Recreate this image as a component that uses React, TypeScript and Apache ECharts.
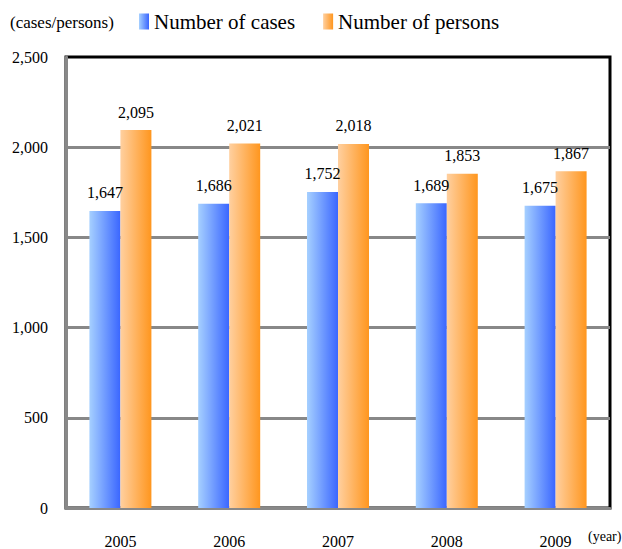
import React, { useEffect, useRef } from "react";
import * as echarts from "echarts";

const years = ["2005", "2006", "2007", "2008", "2009"];
const cases = [1647, 1686, 1752, 1689, 1675];
const persons = [2095, 2021, 2018, 1853, 1867];
const seriesNames = ["Number of cases", "Number of persons"];

const FONT = "'Times New Roman', 'Liberation Serif', serif";

export default function App() {
  const ref = useRef<HTMLDivElement>(null);
  useEffect(() => {
    if (!ref.current) return;
    const chart = echarts.init(ref.current, undefined, { renderer: "svg" });
    const blue = new echarts.graphic.LinearGradient(0, 0, 1, 0, [
      { offset: 0, color: "#a6d0ff" },
      { offset: 1, color: "#3a66ff" },
    ]);
    const orange = new echarts.graphic.LinearGradient(0, 0, 1, 0, [
      { offset: 0, color: "#ffd0a0" },
      { offset: 1, color: "#ff961e" },
    ]);
    const labelFmt = (p: any) => Number(p.value).toLocaleString("en-US");
    const lbl = {
      show: true,
      position: "top",
      distance: 10,
      fontFamily: FONT,
      fontSize: 16,
      color: "#000",
      formatter: labelFmt,
    };
    chart.setOption({
      animation: false,
      textStyle: { fontFamily: FONT },
      grid: {
        left: 66,
        right: 12,
        top: 57,
        bottom: 34,
        show: true,
        borderColor: "#000",
        borderWidth: 3,
        backgroundColor: "transparent",
      },
      legend: {
        top: 6,
        left: 134,
        itemWidth: 10,
        itemHeight: 16,
        itemGap: 28,
        icon: "rect",
        textStyle: { fontFamily: FONT, fontSize: 21, color: "#000" },
        data: seriesNames,
      },
      graphic: [
        {
          type: "text",
          left: 10,
          top: 14,
          style: { text: "(cases/persons)", font: `17px ${FONT}`, fill: "#000" },
        },
        {
          type: "text",
          left: 588,
          top: 529,
          style: { text: "(year)", font: `14px ${FONT}`, fill: "#000" },
        },
      ],
      xAxis: {
        type: "category",
        data: years,
        axisLine: { show: true, lineStyle: { color: "#888", width: 3 } },
        axisTick: { show: false },
        axisLabel: { fontFamily: FONT, fontSize: 16, color: "#000", margin: 25 },
      },
      yAxis: {
        type: "value",
        min: 0,
        max: 2500,
        interval: 500,
        axisLine: { show: true, lineStyle: { color: "#888", width: 3 } },
        axisTick: { show: false },
        axisLabel: {
          fontFamily: FONT,
          fontSize: 16,
          color: "#000",
          margin: 18,
          formatter: (v: number) => v.toLocaleString("en-US"),
        },
        splitLine: { show: true, showMaxLine: false, lineStyle: { color: "#888", width: 3 } },
      },
      series: [
        {
          name: seriesNames[0],
          type: "bar",
          data: cases,
          barWidth: 31,
          barGap: "0%",
          itemStyle: { color: blue },
          label: lbl,
        },
        {
          name: seriesNames[1],
          type: "bar",
          data: persons,
          barWidth: 31,
          barGap: "0%",
          itemStyle: { color: orange },
          label: lbl,
        },
      ],
    });
    return () => chart.dispose();
  }, []);
  return (
    <div
      ref={ref}
      style={{ position: "absolute", left: 0, top: 0, width: 622, height: 549 }}
    />
  );
}
